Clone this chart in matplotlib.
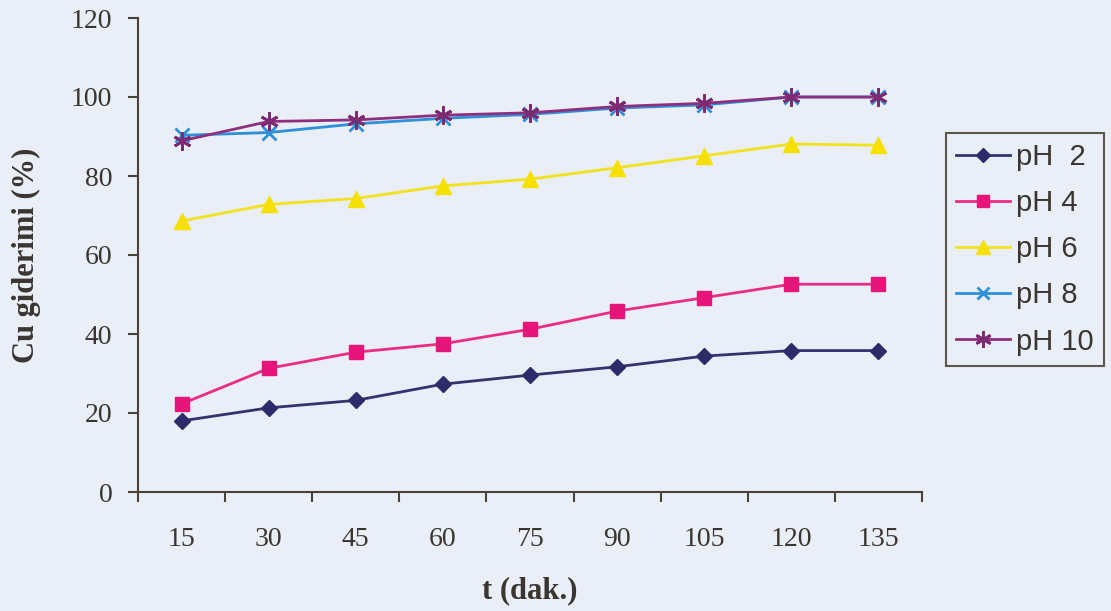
import matplotlib
matplotlib.use("Agg")
import matplotlib.pyplot as plt
import numpy as np

times = ["15", "30", "45", "60", "75", "90", "105", "120", "135"]
ph2 = [18.0, 21.3, 23.2, 27.3, 29.6, 31.7, 34.4, 35.8, 35.8]
ph4 = [22.3, 31.3, 35.4, 37.5, 41.2, 45.8, 49.2, 52.6, 52.6]
ph6 = [68.6, 72.8, 74.3, 77.5, 79.2, 82.1, 85.1, 88.1, 87.8]
ph8 = [90.3, 91.0, 93.2, 94.6, 95.6, 97.2, 98.0, 100.0, 100.0]
ph10 = [88.9, 93.8, 94.2, 95.4, 96.0, 97.6, 98.4, 100.0, 100.0]
labels = ["pH  2", "pH 4", "pH 6", "pH 8", "pH 10"]

bg = "#e9eef7"
axc = "#4a4238"
txtc = "#3a3530"

fig = plt.figure(figsize=(11.11, 6.11), dpi=100, facecolor=bg)
ax = fig.add_axes([138/1111, 1-492/611, (922-138)/1111, (492-18)/611])
ax.set_facecolor(bg)

x = np.arange(len(times))
styles = [
    dict(color="#33336e", marker="D", ms=8, mfc="#2c2c6a", mec="#2c2c6a"),
    dict(color="#ea2d82", marker="s", ms=10, mfc="#e5157a", mec="#e5157a"),
    dict(color="#f2e21e", marker="^", ms=11, mfc="#f5e000", mec="#f5e000"),
    dict(color="#2d90d8", marker="x", ms=10, mew=2, mfc="#2d90d8", mec="#2d90d8"),
    dict(color="#8e2f7e", marker=(6, 2, 0), ms=13, mew=2, mfc="#7e2a72", mec="#7e2a72"),
]
for series, lab, st in zip([ph2, ph4, ph6, ph8, ph10], labels, styles):
    ax.plot(x, series, lw=2, label=lab, **st)

ax.set_xlim(-0.5, len(times) - 0.5)
ax.set_ylim(0, 120)
ax.set_yticks(np.arange(0, 121, 20))
ax.set_xticks(np.arange(-0.5, len(times), 1.0))
ax.set_xticklabels([])
ax.set_xticks(x, minor=True)
ax.set_xticklabels(times, minor=True)
ax.tick_params(axis="x", which="major", direction="out", length=7.5, width=1.5, color=axc)
ax.tick_params(axis="x", which="minor", length=0, pad=25, labelsize=20, labelcolor=txtc)
ax.tick_params(axis="y", direction="out", length=7.5, width=1.5, color=axc, labelsize=20,
               labelcolor=txtc, pad=11)
for lbl in ax.get_xticklabels(minor=True) + ax.get_yticklabels():
    lbl.set_family("Liberation Serif")

for s in ["top", "right"]:
    ax.spines[s].set_visible(False)
for s in ["left", "bottom"]:
    ax.spines[s].set_color(axc)
    ax.spines[s].set_linewidth(1.5)

fig.text(530/1111, 1-591/611, "t (dak.)", ha="center", va="center", fontsize=22,
         fontweight="bold", family="Liberation Serif", color=txtc)
fig.text(26/1111, 1-255/611, "Cu giderimi (%)", ha="center", va="center", rotation=90,
         fontsize=22, fontweight="bold", family="Liberation Serif", color=txtc)

leg = ax.legend(loc="upper left", bbox_to_anchor=(946/1111, 1-133/611),
                bbox_transform=fig.transFigure, borderaxespad=0, frameon=True,
                fancybox=False, prop={"family": "Liberation Sans", "size": 21},
                handlelength=1.85, handletextpad=0.2, labelspacing=0.62,
                borderpad=0.35, markerscale=0.9)
leg.get_frame().set_edgecolor("#3a3020")
leg.get_frame().set_linewidth(1.5)
leg.get_frame().set_facecolor(bg)
for t in leg.get_texts():
    t.set_color(txtc)

fig.savefig("out.png", dpi=100, facecolor=bg)
